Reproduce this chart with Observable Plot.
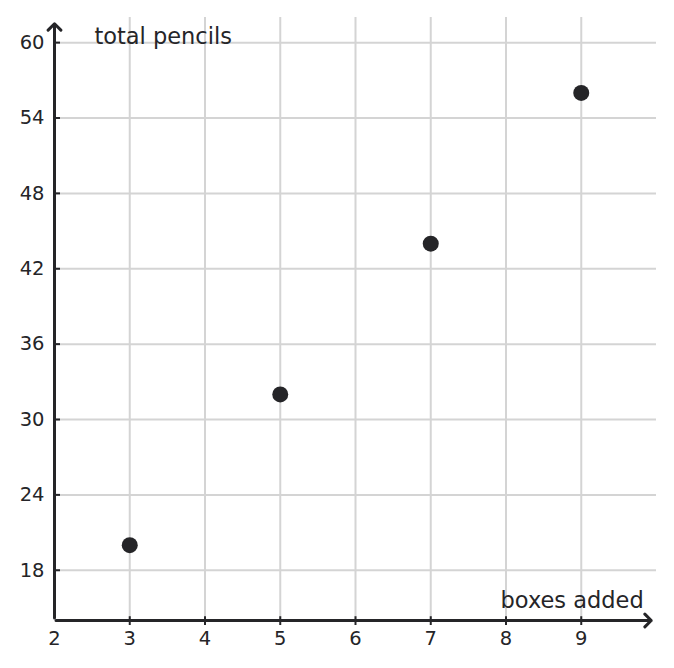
<!DOCTYPE html>
<html>
<head>
<meta charset="utf-8">
<script src="https://cdn.jsdelivr.net/npm/d3@7"></script>
<script src="https://cdn.jsdelivr.net/npm/@observablehq/plot@0.6"></script>
<style>
  html, body { margin: 0; padding: 0; background: #fff; }
  svg { display: block; }
</style>
</head>
<body>
<div id="chart"></div>
<script>
const boxes = [3, 5, 7, 9];
const pencils = [20, 32, 44, 56];
const xTicks = [2, 3, 4, 5, 6, 7, 8, 9];
const xGrid = [3, 4, 5, 6, 7, 8, 9];
const yTicks = [18, 24, 30, 36, 42, 48, 54, 60];
const xLabel = "boxes added";
const yLabel = "total pencils";

const points = boxes.map((b, i) => ({x: b, y: pencils[i]}));
const ink = "#252528";
const gridColor = "#d4d4d4";

const chart = Plot.plot({
  width: 674,
  height: 668,
  marginLeft: 54,
  marginRight: 18,
  marginTop: 17,
  marginBottom: 48,
  style: {fontFamily: "DejaVu Sans", fontSize: "19px", color: ink, background: "#fff"},
  x: {type: "linear", domain: [2, 10], axis: null},
  y: {type: "linear", domain: [14, 62], axis: null},
  marks: [
    Plot.ruleX(xGrid, {x: d => d, y1: 14, y2: 62, stroke: gridColor, strokeWidth: 2}),
    Plot.ruleY(yTicks, {y: d => d, x1: 2, x2: 10, stroke: gridColor, strokeWidth: 2}),
    // ticks
    Plot.ruleY(yTicks, {y: d => d, x1: 2, x2: 2.08, stroke: ink, strokeWidth: 2}),
    Plot.ruleX(xGrid, {x: d => d, y1: 13.6, y2: 14.3, stroke: ink, strokeWidth: 2}),
    Plot.text(yTicks, {x: 2, y: d => d, text: d => String(d), textAnchor: "end", dx: -10, fill: ink, fontSize: 19.5}),
    Plot.text(xTicks, {x: d => d, y: 14, text: d => String(d), dy: 18, fill: ink, fontSize: 19.5}),
    Plot.arrow([0], {x1: 2.02, y1: 14, x2: 9.93, y2: 14, stroke: ink, strokeWidth: 3, headLength: 4.5, headAngle: 90, bend: 0}),
    Plot.arrow([0], {x1: 2, y1: 14.2, x2: 2, y2: 61.5, stroke: ink, strokeWidth: 3, headLength: 4.5, headAngle: 90, bend: 0}),
    Plot.text([yLabel], {x: 2.53, y: 60.5, text: d => d, textAnchor: "start", fill: ink, fontSize: 22.5}),
    Plot.text([xLabel], {x: 9.83, y: 15.6, text: d => d, textAnchor: "end", fill: ink, fontSize: 22.5}),
    Plot.dot(points, {x: "x", y: "y", r: 8, fill: ink, stroke: "none"})
  ]
});
document.getElementById("chart").appendChild(chart);
</script>
</body>
</html>
